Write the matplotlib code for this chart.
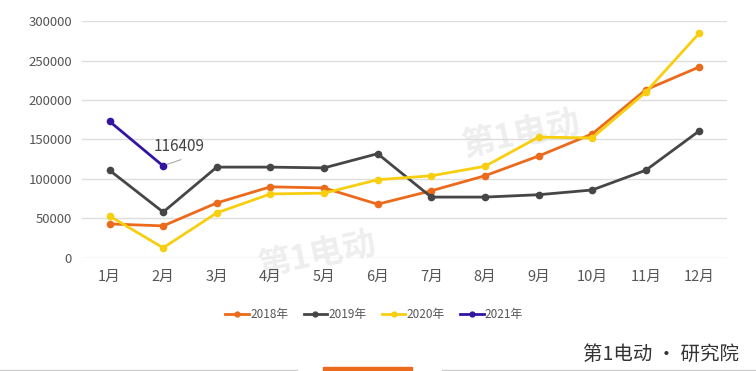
import matplotlib
matplotlib.use("Agg")
import matplotlib.pyplot as plt
from matplotlib.lines import Line2D
import matplotlib.patches as mpatches

plt.rcParams['font.family'] = ['Noto Sans CJK SC', 'DejaVu Sans']

months = ["1月", "2月", "3月", "4月", "5月", "6月", "7月", "8月", "9月", "10月", "11月", "12月"]
s2018 = [43000, 40500, 69600, 90000, 88600, 68000, 85000, 104000, 129000, 157000, 213000, 242000]
s2019 = [111000, 58000, 115000, 115000, 114000, 132000, 77000, 77000, 80000, 86000, 111000, 161000]
s2020 = [53000, 12700, 57000, 81000, 82000, 99000, 104000, 116000, 153000, 152000, 210000, 285000]
s2021 = [173000, 116409]
series_names = ["2018年", "2019年", "2020年", "2021年"]
colors = ["#EC6A1C", "#464646", "#F7CF10", "#3415A3"]
yticks = [0, 50000, 100000, 150000, 200000, 250000, 300000]

fig = plt.figure(figsize=(7.56, 3.71), dpi=100)
ax = fig.add_axes([0.108, 0.305, 0.854, 0.638])

# faint watermarks
fig.text(0.42, 0.31, "第1电动", fontsize=24, color="#EEEEEE", rotation=12,
         ha='center', va='center', zorder=-5, fontweight='bold')
fig.text(0.69, 0.635, "第1电动", fontsize=24, color="#EEEEEE", rotation=12,
         ha='center', va='center', zorder=-5, fontweight='bold')
ax.patch.set_alpha(0)

x = list(range(len(months)))
for data, c in zip([s2018, s2019, s2020, s2021], colors):
    ax.plot(x[:len(data)], data, color=c, lw=2.0, marker='o', ms=4.5, zorder=3)

ax.set_xlim(-0.52, 11.52)
ax.set_ylim(0, 300000)
ax.set_yticks(yticks)
ax.set_yticklabels([str(v) for v in yticks], color="#555555", fontsize=9.5)
ax.set_xticks(x)
ax.set_xticklabels(months, color="#555555", fontsize=10.5)
ax.tick_params(axis='both', length=0)
ax.tick_params(axis='x', pad=9)
ax.tick_params(axis='y', pad=7)
ax.grid(axis='y', color="#DDDDDD", lw=1)
ax.set_axisbelow(True)
for sp in ax.spines.values():
    sp.set_visible(False)

# annotation for Feb 2021
ax.text(0.83, s2021[1] + 25000, str(s2021[1]), fontsize=11, color="#444444",
        ha='left', va='center')
ax.plot([1.07, 1.33], [s2021[1] + 2000, s2021[1] + 8000], color="#AAAAAA", lw=0.8, zorder=2)

# legend
handles = [Line2D([0], [0], color=c, lw=2.0, marker='o', ms=3.5) for c in colors]
fig.legend(handles, series_names, loc='center', bbox_to_anchor=(0.495, 0.153), ncol=4,
           frameon=False, fontsize=8.5, handlelength=2.0, handletextpad=0.1,
           columnspacing=1.3, labelcolor="#555555")

# footer branding
fig.text(0.978, 0.045, "第1电动 · 研究院", ha='right', va='center', fontsize=14, color="#333333")
fig.patches.append(mpatches.Rectangle((0.427, 0.0), 0.118, 0.012, transform=fig.transFigure,
                                      color="#EC6A1C", zorder=5))
fig.add_artist(Line2D([0.0, 0.393], [0.004, 0.004], color="#CCCCCC", lw=1.0))
fig.add_artist(Line2D([0.585, 1.0], [0.004, 0.004], color="#CCCCCC", lw=1.0))

fig.savefig("out.png", dpi=100)
